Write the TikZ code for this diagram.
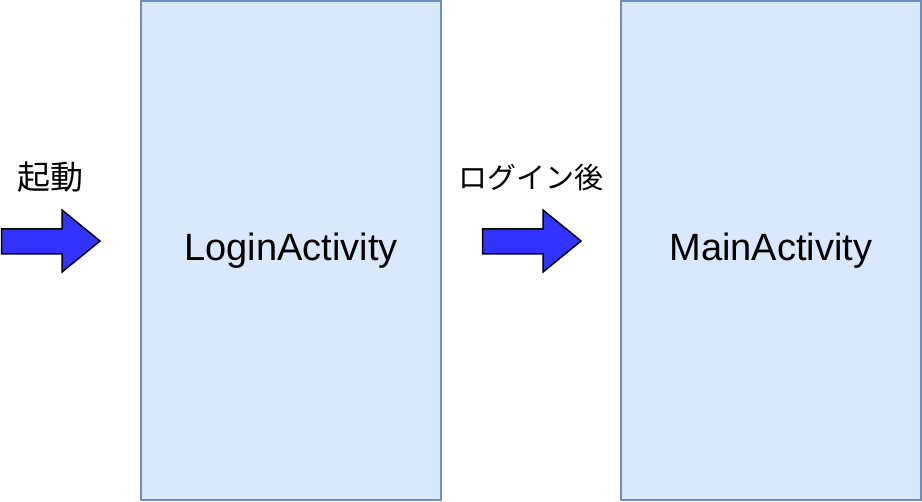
\documentclass[tikz,border=0pt]{standalone}
\usepackage{fontspec}
\setmainfont{Liberation Sans}
\newfontfamily\cjk{Noto Sans CJK JP}
\definecolor{boxfill}{HTML}{DAE8FC}
\definecolor{boxline}{HTML}{6C8EBF}
\definecolor{arrowfill}{HTML}{3333FF}
\begin{document}
\begin{tikzpicture}[x=1pt,y=-1pt,
  activity/.style={draw=boxline,fill=boxfill,line width=1.5pt,minimum width=300pt,minimum height=499pt,inner sep=0pt,font=\fontsize{38}{44}\selectfont},
  label/.style={font=\cjk\fontsize{29}{34}\selectfont,inner sep=0pt},
  blockarrow/.style={draw=black,fill=arrowfill,line width=1.5pt,line join=miter}]
\useasboundingbox (0,0) rectangle (922,502);
\node[activity] (login) at (291,250.5) {LoginActivity};
\node[activity] (main) at (771,250.5) {MainActivity};
\node[label,font=\cjk\fontsize{33}{38}\selectfont] (start) at (50,177) {起動};
\node[label] (after) at (531,178) {ログイン後};
\draw[blockarrow] (1.5,229) -- (62,229) -- (62,210) -- (100,241) -- (62,272) -- (62,254) -- (1.5,254) -- cycle;
\draw[blockarrow,shift={(481,0)}] (1.5,229) -- (62,229) -- (62,210) -- (100,241) -- (62,272) -- (62,254) -- (1.5,254) -- cycle;
\end{tikzpicture}
\end{document}
